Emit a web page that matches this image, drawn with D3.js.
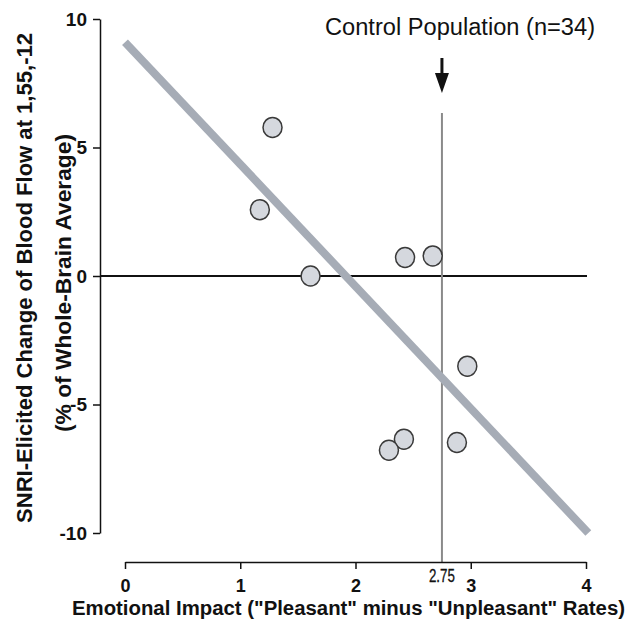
<!DOCTYPE html>
<html>
<head>
<meta charset="utf-8">
<script src="https://cdn.jsdelivr.net/npm/d3@7/dist/d3.min.js"></script>
<style>
  html, body { margin: 0; padding: 0; background: #fff; }
  svg { display: block; }
</style>
</head>
<body>
<svg id="chart" width="630" height="623"></svg>
<script>
// ---- data ----
const emotionalImpact = [1.28, 1.17, 1.61, 2.43, 2.67, 2.97, 2.42, 2.29, 2.88];
const bloodFlowChange = [5.78, 2.58, 0.0, 0.72, 0.78, -3.51, -6.35, -6.78, -6.48];
const fitLineX = [0, 4.02];
const fitLineY = [9.1, -10.0];
const xTicks = [0, 1, 2, 3, 4];
const yTicks = [-10, -5, 0, 5, 10];
const controlMean = 2.75;
const controlLabel = "Control Population (n=34)";
const xTitle = "Emotional Impact  (\"Pleasant\" minus \"Unpleasant\" Rates)";
const yTitle1 = "SNRI-Elicited  Change of Blood Flow at 1,55,-12";
const yTitle2 = "(% of Whole-Brain Average)";

const svg = d3.select("#chart");
const narrow = "'Liberation Sans Narrow', 'Arial Narrow', 'Liberation Sans', Arial, sans-serif";

const x = d3.scaleLinear().domain([0, 4]).range([125, 586]);
const y = d3.scaleLinear().domain([-10, 10]).range([533, 19]);
const yAxisX = 100;
const xAxisY = 562;

// zero line
svg.append("line")
  .attr("x1", yAxisX).attr("x2", 587)
  .attr("y1", y(0)).attr("y2", y(0))
  .attr("stroke", "#111").attr("stroke-width", 2);

// control population vertical line
svg.append("line")
  .attr("x1", x(controlMean)).attr("x2", x(controlMean))
  .attr("y1", 113).attr("y2", xAxisY)
  .attr("stroke", "#8a8a8a").attr("stroke-width", 2);

// regression line
svg.append("line")
  .attr("x1", x(fitLineX[0])).attr("y1", y(fitLineY[0]))
  .attr("x2", x(fitLineX[1])).attr("y2", y(fitLineY[1]))
  .attr("stroke", "#a6acb6").attr("stroke-width", 8);

// points
const pts = emotionalImpact.map((v, i) => [v, bloodFlowChange[i]]);
svg.append("g").selectAll("ellipse").data(pts).join("ellipse")
  .attr("cx", d => x(d[0])).attr("cy", d => y(d[1]))
  .attr("rx", 9.5).attr("ry", 10)
  .attr("fill", "#d5d8de").attr("stroke", "#3a3a3a").attr("stroke-width", 1.5);

// y axis
const yAxis = svg.append("g")
  .attr("transform", `translate(${yAxisX},0)`)
  .call(d3.axisLeft(y).tickValues(yTicks).tickSize(7).tickSizeOuter(0).tickPadding(6).tickFormat(d3.format("d")));
yAxis.select(".domain").attr("stroke", "#111").attr("stroke-width", 1.5);
yAxis.selectAll(".tick line").attr("stroke", "#111").attr("stroke-width", 1.5);
yAxis.selectAll(".tick text")
  .attr("font-family", narrow).attr("font-weight", "bold").attr("font-size", 19).attr("fill", "#111")
  .text(d => d < 0 ? "-" + Math.abs(d) : d);

// x axis
const xAxis = svg.append("g")
  .attr("transform", `translate(0,${xAxisY})`)
  .call(d3.axisBottom(x).tickValues(xTicks).tickSize(7).tickSizeOuter(0).tickPadding(10).tickFormat(d3.format("d")));
xAxis.select(".domain").attr("stroke", "#111").attr("stroke-width", 1.5);
xAxis.selectAll(".tick line").attr("stroke", "#111").attr("stroke-width", 1.5);
xAxis.selectAll(".tick text")
  .attr("font-family", narrow).attr("font-weight", "bold").attr("font-size", 18).attr("fill", "#111");

// 2.75 label
svg.append("text")
  .attr("x", x(controlMean)).attr("y", 582)
  .attr("text-anchor", "middle")
  .attr("font-family", narrow).attr("font-size", 18).attr("fill", "#111")
  .attr("stroke", "#111").attr("stroke-width", 0.3)
  .attr("textLength", 26).attr("lengthAdjust", "spacingAndGlyphs")
  .text(String(controlMean));

// control population label and arrow
svg.append("text")
  .attr("x", 325).attr("y", 35)
  .attr("font-family", narrow).attr("font-size", 23).attr("fill", "#111")
  .attr("textLength", 270).attr("lengthAdjust", "spacingAndGlyphs")
  .text(controlLabel);
svg.append("line")
  .attr("x1", x(controlMean)).attr("x2", x(controlMean))
  .attr("y1", 58).attr("y2", 76)
  .attr("stroke", "#111").attr("stroke-width", 3);
svg.append("path")
  .attr("d", d3.line()([[x(controlMean) - 7, 73], [x(controlMean) + 7, 73], [x(controlMean), 93]]) + "Z")
  .attr("fill", "#111");

// x title
svg.append("text")
  .attr("x", 72).attr("y", 615)
  .attr("font-family", narrow).attr("font-weight", "bold").attr("font-size", 20).attr("fill", "#111")
  .attr("textLength", 553).attr("lengthAdjust", "spacingAndGlyphs")
  .text(xTitle);

// y title
svg.append("text")
  .attr("transform", "translate(32,523) rotate(-90)")
  .attr("font-family", narrow).attr("font-weight", "bold").attr("font-size", 22).attr("fill", "#111")
  .attr("textLength", 490).attr("lengthAdjust", "spacingAndGlyphs")
  .text(yTitle1);
svg.append("text")
  .attr("transform", "translate(71,432) rotate(-90)")
  .attr("font-family", narrow).attr("font-weight", "bold").attr("font-size", 22).attr("fill", "#111")
  .attr("textLength", 298).attr("lengthAdjust", "spacingAndGlyphs")
  .text(yTitle2);
</script>
</body>
</html>
